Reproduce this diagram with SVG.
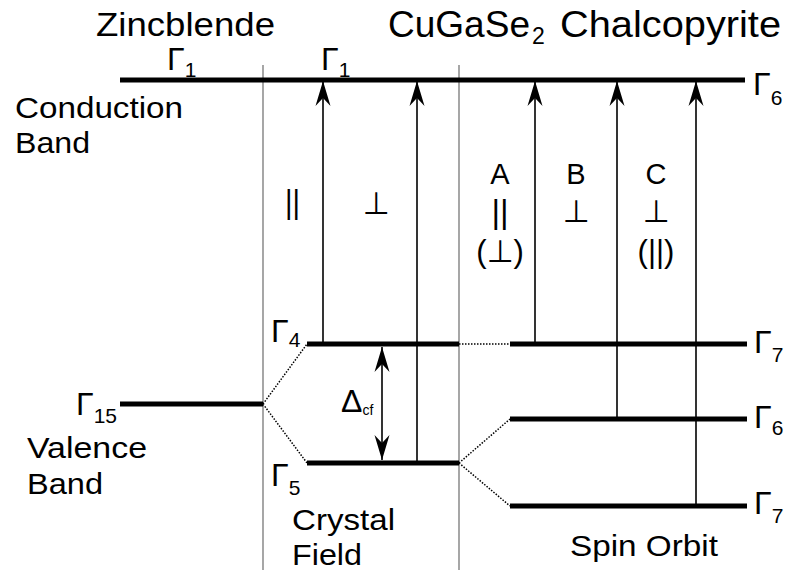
<svg xmlns="http://www.w3.org/2000/svg" width="787" height="570" viewBox="0 0 787 570">
<style>
text{font-family:"Liberation Sans",Arial,"DejaVu Sans",sans-serif;fill:#000}
.t{font-size:29px}
.g{font-size:32px}
.s{font-size:21px}
.lvl{stroke:#000;stroke-width:5;fill:none}
.sep{stroke:#777;stroke-width:1.3;fill:none}
.dot{stroke:#000;stroke-width:1.5;stroke-dasharray:1.5 1.5;fill:none}
.arr{stroke:#000;stroke-width:1.6;fill:none}
</style>
<defs>
<marker id="ah" markerUnits="userSpaceOnUse" markerWidth="30" markerHeight="20" refX="0" refY="0" orient="auto" overflow="visible">
<path d="M0,0 L-25,-7.5 L-17,0 L-25,7.5 Z" fill="#000"/>
</marker>
<marker id="ahs" markerUnits="userSpaceOnUse" markerWidth="30" markerHeight="20" refX="0" refY="0" orient="auto-start-reverse" overflow="visible">
<path d="M0,0 L-25,-7.5 L-17,0 L-25,7.5 Z" fill="#000"/>
</marker>
</defs>
<g id="separators">
<line class="sep" x1="263" y1="65" x2="263" y2="570"/>
<line class="sep" x1="459" y1="65" x2="459" y2="570"/>
</g>
<g id="titles">
<text font-size="33" x="96" y="36" textLength="179" lengthAdjust="spacingAndGlyphs">Zincblende</text>
<text font-size="37" x="388" y="37" textLength="142" lengthAdjust="spacingAndGlyphs">CuGaSe</text>
<text font-size="23" x="532" y="44">2</text>
<text font-size="37" x="560" y="37" textLength="221" lengthAdjust="spacingAndGlyphs">Chalcopyrite</text>
</g>
<g id="conduction-band">
<line class="lvl" x1="120" y1="80" x2="745" y2="80"/>
<text class="t" x="15" y="118" textLength="168" lengthAdjust="spacingAndGlyphs">Conduction</text>
<text class="t" x="15" y="153" textLength="75" lengthAdjust="spacingAndGlyphs">Band</text>
<text class="g" x="167" y="70">Γ<tspan class="s" dy="7">1</tspan></text>
<text class="g" x="321" y="70">Γ<tspan class="s" dy="7">1</tspan></text>
<text class="g" x="753" y="95">Γ<tspan class="s" dy="10">6</tspan></text>
</g>
<g id="valence-zb">
<line class="lvl" x1="120" y1="404" x2="263" y2="404"/>
<text class="g" x="76" y="415">Γ<tspan class="s" dy="8">15</tspan></text>
<text class="t" x="27" y="458" textLength="120" lengthAdjust="spacingAndGlyphs">Valence</text>
<text class="t" x="27" y="494" textLength="76" lengthAdjust="spacingAndGlyphs">Band</text>
</g>
<g id="crystal-field">
<line class="lvl" x1="307" y1="344" x2="459" y2="344"/>
<line class="lvl" x1="307" y1="463" x2="459" y2="463"/>
<text class="g" x="271" y="342">Γ<tspan class="s" dy="5">4</tspan></text>
<text class="g" x="271" y="486">Γ<tspan class="s" dy="9">5</tspan></text>
<text class="t" x="292" y="530" textLength="103" lengthAdjust="spacingAndGlyphs">Crystal</text>
<text class="t" x="292" y="565" textLength="70" lengthAdjust="spacingAndGlyphs">Field</text>
</g>
<g id="spin-orbit">
<line class="lvl" x1="510" y1="344" x2="747" y2="344"/>
<line class="lvl" x1="510" y1="419" x2="747" y2="419"/>
<line class="lvl" x1="510" y1="506" x2="747" y2="506"/>
<text class="g" x="754" y="353">Γ<tspan class="s" dy="9">7</tspan></text>
<text class="g" x="754" y="428">Γ<tspan class="s" dy="7">6</tspan></text>
<text class="g" x="754" y="514">Γ<tspan class="s" dy="9">7</tspan></text>
<text class="t" x="570" y="556" textLength="148" lengthAdjust="spacingAndGlyphs">Spin Orbit</text>
</g>
<g id="connectors">
<path class="dot" d="M263,404 L307,344 M263,404 L307,463 M459,344 L510,344 M459,463 L510,419 M459,463 L510,506"/>
<line class="arr" x1="323" y1="344" x2="323" y2="81" marker-end="url(#ah)"/>
<line class="arr" x1="417" y1="463" x2="417" y2="81" marker-end="url(#ah)"/>
<line class="arr" x1="535" y1="344" x2="535" y2="81" marker-end="url(#ah)"/>
<line class="arr" x1="617" y1="419" x2="617" y2="81" marker-end="url(#ah)"/>
<line class="arr" x1="696" y1="506" x2="696" y2="81" marker-end="url(#ah)"/>
<line class="arr" x1="382" y1="347" x2="382" y2="460" marker-start="url(#ahs)" marker-end="url(#ahs)"/>
</g>
<g id="labels">
<text class="g" x="341" y="412">Δ<tspan font-size="14" dy="3">cf</tspan></text>
<text font-size="33" x="285" y="213" textLength="15" lengthAdjust="spacingAndGlyphs">||</text>
<text font-size="31" x="376" y="214" text-anchor="middle">⊥</text>
<text class="t" x="500" y="184" text-anchor="middle">A</text>
<text font-size="33" x="500" y="223" text-anchor="middle">||</text>
<text font-size="31" x="500" y="262" text-anchor="middle">(⊥)</text>
<text class="t" x="576" y="184" text-anchor="middle">B</text>
<text font-size="31" x="576" y="222" text-anchor="middle">⊥</text>
<text class="t" x="656" y="184" text-anchor="middle">C</text>
<text font-size="31" x="656" y="222" text-anchor="middle">⊥</text>
<text font-size="31" x="656" y="262" text-anchor="middle">(||)</text>
</g>
</svg>
